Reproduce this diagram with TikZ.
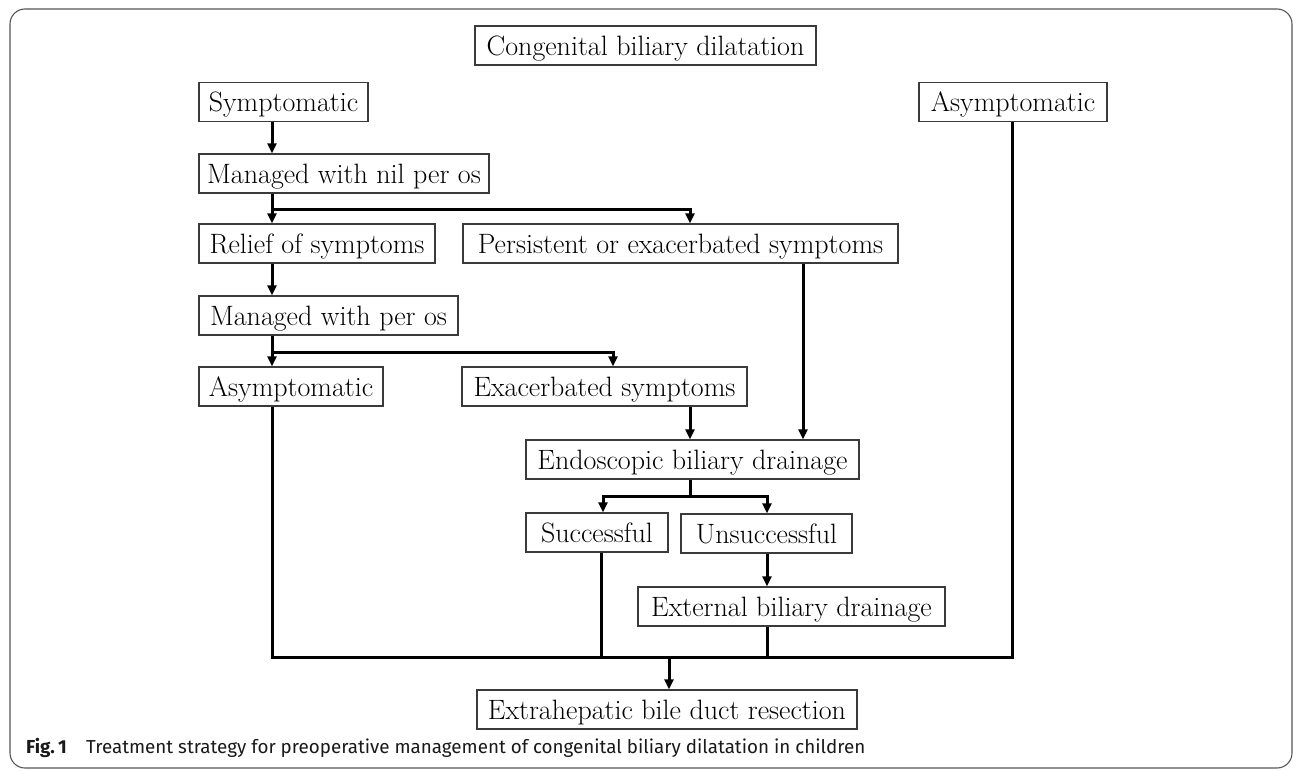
\documentclass[tikz,border=0pt]{standalone}
\usepackage{fontspec}
\newfontfamily\capfont{Fira Sans}
\usetikzlibrary{arrows.meta}
\definecolor{boxc}{HTML}{3A3A3A}
\definecolor{framec}{HTML}{555555}
\tikzset{
  box/.style={draw=boxc, line width=1.3pt, inner sep=0pt, minimum height=39pt,
    text height=21pt, text depth=2pt, font=\fontsize{28}{32}\selectfont, anchor=center},
  conn/.style={line width=3pt, black},
  arr/.style={conn, -{Triangle[length=10pt,width=9pt]}},
  frame/.style={draw=framec, line width=1.1pt, rounded corners=15pt}
}
\begin{document}
\begin{tikzpicture}[x=1pt,y=-1pt]
\useasboundingbox (0,0) rectangle (1296,771);
\draw[frame] (10,9) rectangle (1292,768);

\node[box, minimum width=341pt] (cong)    at (645.5,45.5) {Congenital biliary dilatation};
\node[box, minimum width=169pt] (sym)     at (283.5,102)  {Symptomatic};
\node[box, minimum width=188pt] (asymR)   at (1013,102)   {Asymptomatic};
\node[box, minimum width=290pt] (nil)     at (344,173.5)  {Managed with nil per os};
\node[box, minimum width=236pt] (relief)  at (317,243.5)  {Relief of symptoms};
\node[box, minimum width=435pt] (persist) at (680.5,243.5) {Persistent or exacerbated symptoms};
\node[box, minimum width=259pt] (perOs)   at (328.5,315.5) {Managed with per os};
\node[box, minimum width=184pt] (asymL)   at (291,386.5)  {Asymptomatic};
\node[box, minimum width=285pt] (exac)    at (604.5,386.5) {Exacerbated symptoms};
\node[box, minimum width=333pt] (endo)    at (692.5,459.5) {Endoscopic biliary drainage};
\node[box, minimum width=142pt] (succ)    at (597,532.5)  {Successful};
\node[box, minimum width=171pt] (unsucc)  at (766.5,533.5) {Unsuccessful};
\node[box, minimum width=307pt] (ext)     at (791.5,606.5) {External biliary drainage};
\node[box, minimum width=380pt] (extra)   at (667,709.5)  {Extrahepatic bile duct resection};

\coordinate (cA) at (272,0);
\coordinate (cB) at (690,0);
\coordinate (cC) at (613,0);
\coordinate (cD) at (803,0);
\coordinate (cE) at (603,0);
\coordinate (cF) at (767,0);
\coordinate (cG) at (1012,0);
\coordinate (cH) at (669,0);
\coordinate (cS) at (601,0);
\coordinate (yb1) at (0,209);
\coordinate (yb2) at (0,352);
\coordinate (yb3) at (0,496);
\coordinate (ybot) at (0,657);

\draw[arr] (sym.south -| cA) -- (nil.north -| cA);
\draw[arr] (nil.south -| cA) -- (relief.north -| cA);
\draw[arr] (yb1 -| cA) -- (yb1 -| cB) -- (persist.north -| cB);
\draw[arr] (relief.south -| cA) -- (perOs.north -| cA);
\draw[arr] (perOs.south -| cA) -- (asymL.north -| cA);
\draw[arr] (yb2 -| cA) -- (yb2 -| cC) -- (exac.north -| cC);
\draw[arr] (exac.south -| cB) -- (endo.north -| cB);
\draw[arr] (persist.south -| cD) -- (endo.north -| cD);
\draw[conn] (endo.south -| cB) -- (yb3 -| cB);
\draw[arr] (yb3 -| cB) -- (yb3 -| cE) -- (succ.north -| cE);
\draw[arr] (yb3 -| cB) -- (yb3 -| cF) -- (unsucc.north -| cF);
\draw[arr] (unsucc.south -| cF) -- (ext.north -| cF);
\draw[conn] (asymL.south -| cA) -- (ybot -| cA) -- (ybot -| cG) -- (asymR.south -| cG);
\draw[conn] (succ.south -| cS) -- (ybot -| cS);
\draw[conn] (ext.south -| cF) -- (ybot -| cF);
\draw[arr] (ybot -| cH) -- (extra.north -| cH);

\node[anchor=base west, inner sep=0pt, text=black!90, font=\capfont\fontsize{18.8}{22}\selectfont] (cap) at (26,753)
  {\makebox[60pt][l]{\textbf{Fig.\,1}}Treatment strategy for preoperative management of congenital biliary dilatation in children};
\end{tikzpicture}
\end{document}
